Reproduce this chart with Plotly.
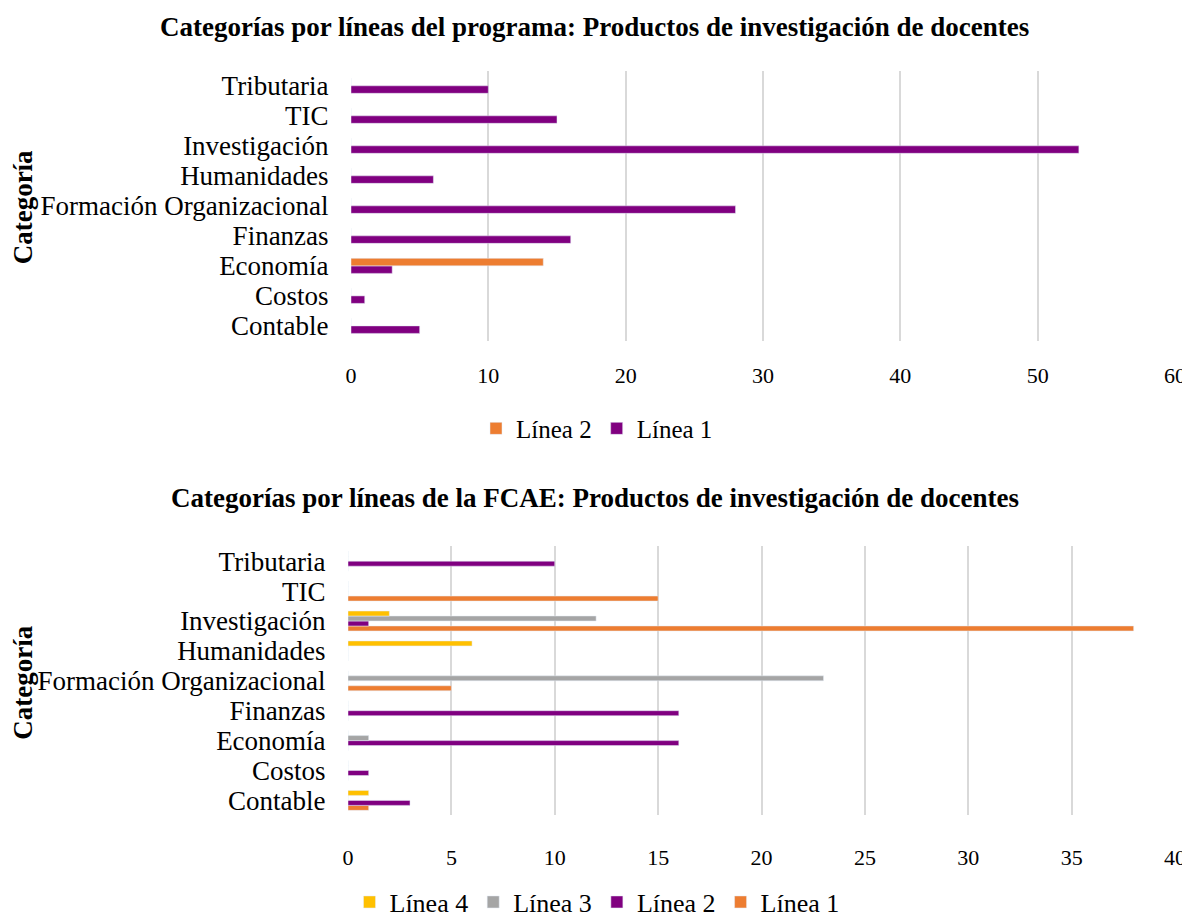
import plotly.graph_objects as go

categories = ["Contable", "Costos", "Economía", "Finanzas", "Formación Organizacional",
              "Humanidades", "Investigación", "TIC", "Tributaria"]

# Top chart: program lines
prog_linea1 = [5, 1, 3, 16, 28, 6, 53, 15, 10]
prog_linea2 = [0, 0, 14, 0, 0, 0, 0, 0, 0]

# Bottom chart: FCAE lines
fcae_linea1 = [1, 0, 0, 0, 5, 0, 38, 15, 0]
fcae_linea2 = [3, 1, 16, 16, 0, 0, 1, 0, 10]
fcae_linea3 = [0, 0, 1, 0, 23, 0, 12, 0, 0]
fcae_linea4 = [1, 0, 0, 0, 0, 6, 2, 0, 0]

top_ticks = [0, 10, 20, 30, 40, 50, 60]
bot_ticks = [0, 5, 10, 15, 20, 25, 30, 35, 40]

PURPLE = "#800080"
ORANGE = "#ED7D31"
GRAY = "#A5A5A5"
YELLOW = "#FFC000"
FONT = "Liberation Serif"

fig = go.Figure()

# top chart traces (first trace sits lowest)
w2 = 0.25
fig.add_trace(go.Bar(y=categories, x=prog_linea1, orientation="h", name="Línea 1",
                     marker_color=PURPLE, width=w2, offset=-w2,
                     xaxis="x", yaxis="y", legend="legend"))
fig.add_trace(go.Bar(y=categories, x=prog_linea2, orientation="h", name="Línea 2",
                     marker_color=ORANGE, width=w2, offset=0,
                     xaxis="x", yaxis="y", legend="legend"))

w4 = 1 / 6
for i, (vals, name, col) in enumerate([(fcae_linea1, "Línea 1", ORANGE),
                                        (fcae_linea2, "Línea 2", PURPLE),
                                        (fcae_linea3, "Línea 3", GRAY),
                                        (fcae_linea4, "Línea 4", YELLOW)]):
    fig.add_trace(go.Bar(y=categories, x=vals, orientation="h", name=name,
                         marker_color=col, width=w4, offset=-2 * w4 + i * w4,
                         xaxis="x2", yaxis="y2", legend="legend2"))

H = 918.0
W = 1190.0
OFF = 8  # page body margin

def px_(x):
    return (x - OFF) / W

def py(y):
    return 1 - (y - OFF) / H

axis_common = dict(showline=False, zeroline=False, automargin=False)

xcommon = dict(showgrid=True, gridcolor="#D9D9D9", gridwidth=2,
               ticks="outside", tickcolor="rgba(0,0,0,0)",
               tickfont=dict(size=22, family=FONT), **axis_common)
ycommon = dict(categoryorder="array", categoryarray=categories, range=[-0.5, 8.5],
               showgrid=False, tickmode="linear", tick0=0, dtick=1,
               ticks="outside", ticklen=16, tickcolor="rgba(0,0,0,0)",
               tickfont=dict(size=27, family=FONT), **axis_common)

fig.update_layout(
    width=1190, height=918,
    margin=dict(l=0, r=0, t=0, b=0),
    paper_bgcolor="white", plot_bgcolor="white",
    barmode="group",
    font=dict(family=FONT, color="#000000"),
    xaxis=dict(domain=[px_(351), px_(1175)], anchor="y", range=[0, 60],
               tickvals=top_ticks, ticklen=15, **xcommon),
    yaxis=dict(domain=[py(342), py(71)], anchor="x", **ycommon),
    xaxis2=dict(domain=[px_(348), px_(1175)], anchor="y2", range=[0, 40],
                tickvals=bot_ticks, ticklen=22, **xcommon),
    yaxis2=dict(domain=[py(818), py(548)], anchor="x2", **ycommon),
    legend=dict(orientation="h", x=px_(597), xanchor="center", y=py(430), yanchor="middle",
                traceorder="reversed", font=dict(size=25, family=FONT),
                itemwidth=30, bgcolor="rgba(0,0,0,0)"),
    legend2=dict(orientation="h", x=px_(597), xanchor="center", y=py(905), yanchor="middle",
                 traceorder="reversed", font=dict(size=26, family=FONT),
                 itemwidth=30, bgcolor="rgba(0,0,0,0)"),
    showlegend=True,
)

fig.add_annotation(text="<b>Categorías por líneas del programa: Productos de investigación de docentes</b>",
                   x=px_(594), y=py(27), xref="paper", yref="paper", showarrow=False,
                   font=dict(size=27, family=FONT), xanchor="center", yanchor="middle")
fig.add_annotation(text="<b>Categorías por líneas de la FCAE: Productos de investigación de docentes</b>",
                   x=px_(595), y=py(500), xref="paper", yref="paper", showarrow=False,
                   font=dict(size=27, family=FONT), xanchor="center", yanchor="middle")
fig.add_annotation(text="<b>Categoría</b>", textangle=-90,
                   x=px_(23), y=py(208), xref="paper", yref="paper", showarrow=False,
                   font=dict(size=27, family=FONT), xanchor="center", yanchor="middle")
fig.add_annotation(text="<b>Categoría</b>", textangle=-90,
                   x=px_(23), y=py(685), xref="paper", yref="paper", showarrow=False,
                   font=dict(size=27, family=FONT), xanchor="center", yanchor="middle")

fig.write_html("out.html")
